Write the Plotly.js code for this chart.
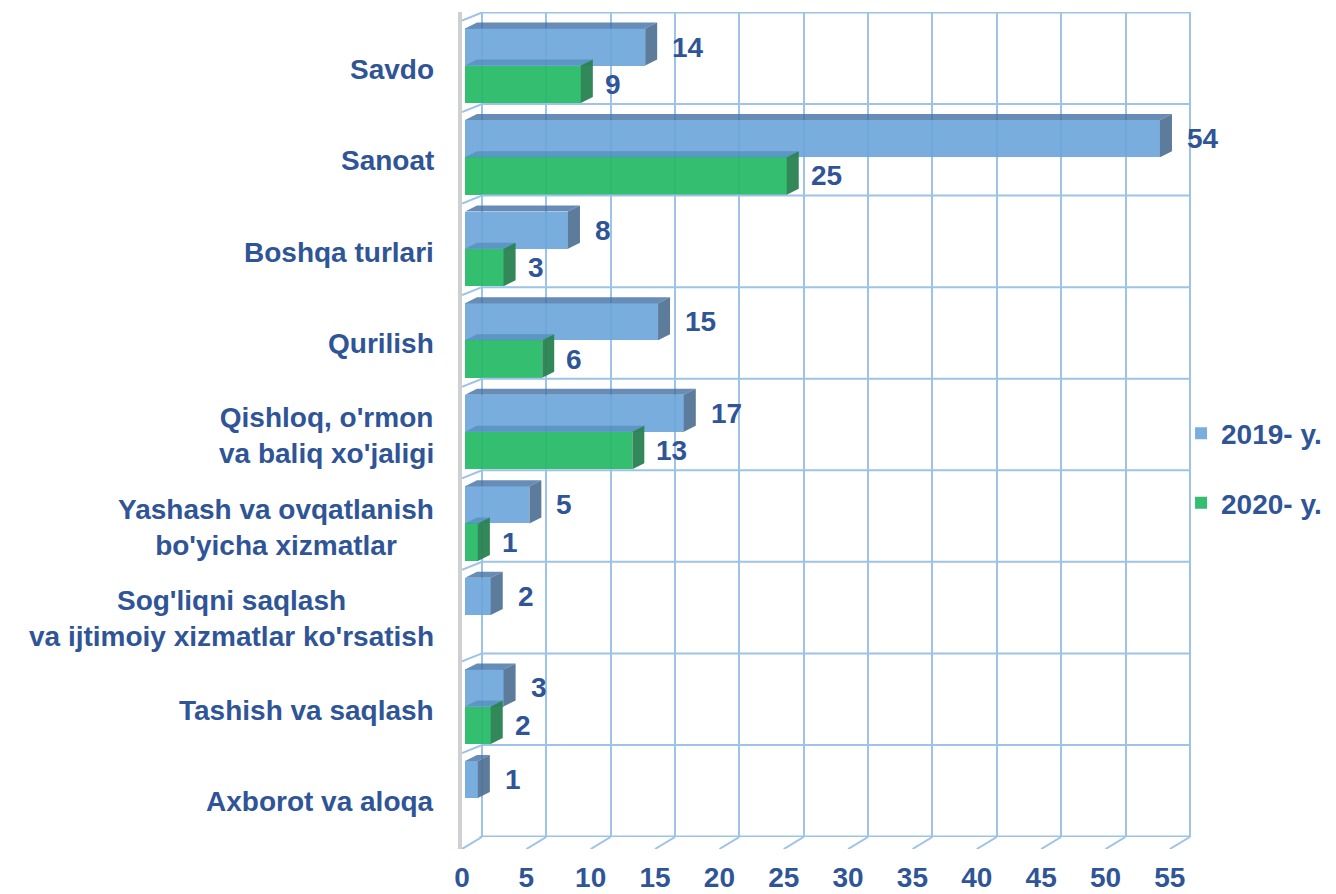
<!DOCTYPE html>
<html>
<head>
<meta charset="utf-8">
<script src="https://cdn.plot.ly/plotly-3.0.1.min.js"></script>
<style>html,body{margin:0;padding:0;background:#fff;}#chart{width:1336px;height:894px;}</style>
</head>
<body>
<div id="chart"></div>
<script>
// ---- data ----
const categories = [
  "Savdo",
  "Sanoat",
  "Boshqa turlari",
  "Qurilish",
  "Qishloq, o'rmon<br>va baliq xo'jaligi",
  "Yashash va ovqatlanish<br>bo'yicha xizmatlar",
  "Sog'liqni saqlash<br>va ijtimoiy xizmatlar ko'rsatish",
  "Tashish va saqlash",
  "Axborot va aloqa"
];
const values2019 = [14, 54, 8, 15, 17, 5, 2, 3, 1];
const values2020 = [9, 25, 3, 6, 13, 1, null, 2, null];
const seriesNames = ["2019- y.", "2020- y."];
const xTickVals = [0, 5, 10, 15, 20, 25, 30, 35, 40, 45, 50, 55];

// ---- styling / geometry constants ----
const TXT = "#2F5597";
const GRID = "#9DC3E6";
const FONT = "Liberation Sans, Arial, sans-serif";
const PXU = 12.87;             // px per x unit
const PXY = 91.56;             // px per category
const DX = 12 / PXU, DY = 6 / PXY;   // 3D depth of bars
const WALL = 17 / PXU;         // bar zero -> back wall offset
const S1 = { off: -0.325, w: 0.405, shift: 25 };
const S2 = { off: 0.08, w: 0.41, shift: 22 };

const idx = categories.map((_, i) => i);

function faces(vals, s) {
  const top = { x: [], y: [] }, right = { x: [], y: [] };
  vals.forEach((v, i) => {
    if (v === null || v === 0) return;
    const yt = i + s.off, yb = i + s.off + s.w;
    top.x.push(0, DX, v + DX, v, 0, null);
    top.y.push(yt, yt - DY, yt - DY, yt, yt, null);
    right.x.push(v, v + DX, v + DX, v, v, null);
    right.y.push(yt, yt - DY, yb - DY, yb, yt, null);
  });
  return { top, right };
}
function poly(p, color) {
  return { type: "scatter", mode: "lines", x: p.x, y: p.y, fill: "toself", fillcolor: color,
    line: { width: 0 }, hoverinfo: "skip", showlegend: false, xaxis: "x", yaxis: "y" };
}

// horizontal back-wall gridlines with wall diagonals
const boundaries = [];
for (let b = -0.5; b <= categories.length - 0.5 + 1e-9; b += 1) boundaries.push(b);
const hx = [], hy = [];
boundaries.forEach(b => {
  hx.push(-3 / PXU, WALL, xTickVals[xTickVals.length - 1] + WALL, null);
  hy.push(b + 8 / PXY, b, b, null);
});

// floor diagonals
const fx = [], fy = [];
xTickVals.forEach(v => { fx.push(v + 20 / PXU, v, null); fy.push(1, 0, null); });

const f1 = faces(values2019, S1), f2 = faces(values2020, S2);

const traces = [
  { type: "scatter", x: [null], y: [null], xaxis: "x2", yaxis: "y", showlegend: false, hoverinfo: "skip" },
  { type: "scatter", mode: "lines", x: hx, y: hy, line: { color: GRID, width: 2 },
    hoverinfo: "skip", showlegend: false, xaxis: "x", yaxis: "y" },
  { type: "scatter", mode: "lines", x: fx, y: fy, line: { color: GRID, width: 2 },
    hoverinfo: "skip", showlegend: false, xaxis: "x3", yaxis: "y3" },
  { type: "bar", orientation: "h", name: seriesNames[0], x: values2019, y: idx,
    offset: S1.off, width: S1.w, marker: { color: "rgba(108,166,219,0.92)", line: { width: 0 } },
    xaxis: "x", yaxis: "y", legendgroup: "a", hoverinfo: "x" },
  { type: "bar", orientation: "h", name: seriesNames[1], x: values2020, y: idx,
    offset: S2.off, width: S2.w, marker: { color: "rgba(35,185,101,0.93)", line: { width: 0 } },
    xaxis: "x", yaxis: "y", legendgroup: "b", hoverinfo: "x" },
  poly(f1.top, "rgba(70,115,165,0.82)"),
  poly(f1.right, "rgba(75,110,145,0.9)"),
  poly(f2.top, "rgba(40,110,150,0.35)"),
  poly(f2.right, "rgba(40,130,80,0.95)")
];

const annotations = [];
categories.forEach((c, i) => {
  annotations.push({ xref: "x", yref: "y", x: -3 / PXU, y: i, text: c, showarrow: false,
    xanchor: "right", yanchor: "middle", xshift: -26, yshift: -11, align: "center",
    font: { family: FONT, size: 28, color: TXT, weight: "bold" } });
});
[[values2019, S1], [values2020, S2]].forEach(([vals, s]) => {
  vals.forEach((v, i) => {
    if (v === null || v === 0) return;
    annotations.push({ xref: "x", yref: "y", x: v, y: i + s.off + s.w / 2, text: String(v),
      showarrow: false, xanchor: "left", yanchor: "middle", xshift: s.shift,
      font: { family: FONT, size: 28, color: TXT, weight: "bold" } });
  });
});

const mainBottom = 12 / 837;
const layout = {
  width: 1336, height: 894,
  margin: { l: 462, r: 1336 - 1192, t: 12, b: 45, autoexpand: false },
  paper_bgcolor: "#fff", plot_bgcolor: "rgba(0,0,0,0)",
  showlegend: true,
  font: { family: FONT, color: TXT },
  xaxis: { domain: [0, 1], anchor: "y", range: [-3 / PXU, -3 / PXU + 730 / PXU],
    showgrid: false, zeroline: false, showticklabels: false, fixedrange: true },
  xaxis2: { overlaying: "x", anchor: "y", range: [-20 / PXU, -20 / PXU + 730 / PXU],
    tickvals: xTickVals, showgrid: true, gridcolor: GRID, gridwidth: 2,
    zeroline: false, showticklabels: false, ticks: "" },
  yaxis: { domain: [mainBottom, 1], anchor: "x", range: [8.505, -0.505],
    showgrid: false, zeroline: false, showticklabels: false,
    showline: true, linecolor: "#D0D0D0", linewidth: 4 },
  xaxis3: { domain: [0, 1], anchor: "y3", range: [0, 730 / PXU], tickvals: xTickVals,
    showgrid: false, zeroline: false, ticks: "", ticklabelstandoff: 9, automargin: false,
    tickfont: { family: FONT, size: 28, color: TXT, weight: "bold" } },
  yaxis3: { domain: [0, mainBottom], anchor: "x3", range: [0, 1], showgrid: false,
    zeroline: false, showticklabels: false, showline: true, linecolor: "#D0D0D0", linewidth: 4 },
  legend: { x: 0.985, xanchor: "left", y: 0.455, yanchor: "middle", traceorder: "grouped",
    tracegroupgap: 30, bgcolor: "rgba(0,0,0,0)", itemwidth: 30,
    font: { family: FONT, size: 28, color: TXT, weight: "bold" } },
  annotations: annotations,
  bargap: 0
};

Plotly.newPlot("chart", traces, layout, { displayModeBar: false, staticPlot: true });
</script>
</body>
</html>
